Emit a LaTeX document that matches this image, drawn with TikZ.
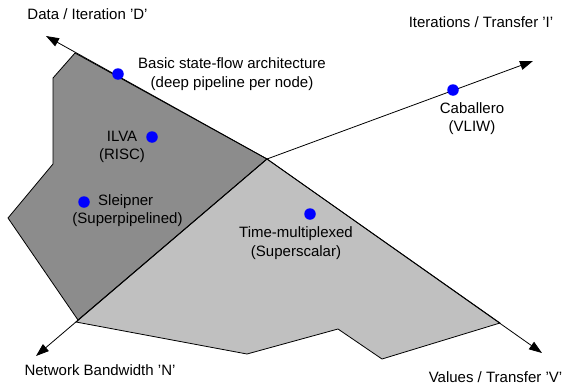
\documentclass[tikz,border=0pt]{standalone}
\usepackage{fontspec}
\setmainfont{Liberation Sans}
\usepackage{tikz}
\usetikzlibrary{arrows.meta,positioning}
\definecolor{grisosc}{HTML}{8C8C8C}
\definecolor{grisclaro}{HTML}{C0C0C0}
\definecolor{punto}{HTML}{0000FF}
\tikzset{
  eje/.style={draw=black,line width=0.8pt,-{Triangle[length=13pt,width=9pt]}},
  zona/.style={draw=black,line width=0.8pt,line join=miter},
  arq/.style={circle,fill=punto,inner sep=0pt,minimum size=11.5pt},
  etiq/.style={font=\fontsize{15}{18.5}\selectfont,inner sep=0pt,align=center},
}

\begin{document}
\begin{tikzpicture}[x=1pt,y=-1pt]
\useasboundingbox (0,0) rectangle (569,388);
\coordinate (o) at (267,159);
\coordinate (tipD) at (46,36);
\coordinate (tipI) at (533,61);
\coordinate (tipN) at (36,356);
\coordinate (tipV) at (542,353);
% regiones
\fill[grisosc] (o) -- (75,53) -- (53,78) -- (53,164) -- (8,218) -- (78,320) -- cycle;
\draw[zona] (o) -- (75,53) -- (53,78) -- (53,164) -- (8,218) -- (78,320) -- cycle;
\fill[grisclaro] (o) -- (500,323) -- (382,359) -- (338,329) -- (247,354) -- (76,322) -- cycle;
\draw[zona] (o) -- (500,323) -- (382,359) -- (338,329) -- (247,354) -- (76,322) -- cycle;
% ejes
\draw[eje] (o) -- (tipD);
\draw[eje] (o) -- (tipI);
\draw[eje] (o) -- (tipN);
\draw[eje] (o) -- (tipV);
\node[etiq] (labD) at (87.5,14) {Data / Iteration 'D'};
\node[etiq] (labI) at (481,22) {Iterations / Transfer 'I'};
\node[etiq] (labN) at (100,370) {Network Bandwidth 'N'};
\node[etiq] (labV) at (495.5,377) {Values / Transfer 'V'};
% arquitecturas
\node[arq] (basic) at (118,74) {};
\node[etiq] (basictxt) at (232,74) {Basic state-flow architecture\\(deep pipeline per node)};
\node[arq] (ilva) at (152,137) {};
\node[etiq] (ilvatxt) at (122,147) {ILVA\\(RISC)};
\node[arq] (sleip) at (84,202) {};
\node[etiq,anchor=west] (sleiptxt) at (98,202) {Sleipner};
\node[etiq] (sleiptxt2) at (127.5,220) {(Superpipelined)};
\node[arq] (caba) at (453,90) {};
\node[etiq] (cabatxt) at (472,118.5) {Caballero\\(VLIW)};
\node[arq] (timem) at (310,214) {};
\node[etiq] (timemtxt) at (296,243) {Time-multiplexed\\(Superscalar)};
\end{tikzpicture}
\end{document}
